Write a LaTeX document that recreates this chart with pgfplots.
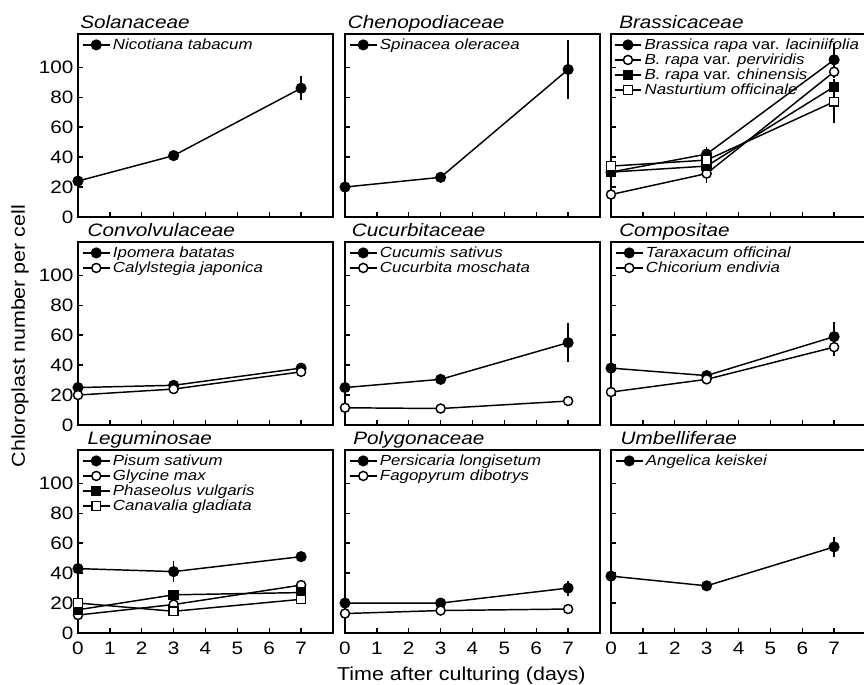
\documentclass[border=0pt]{standalone}
\usepackage{fontspec}
\setmainfont{Liberation Sans}[FakeStretch=1.15]
\usepackage{pgfplots}
\pgfplotsset{compat=1.18}
\pgfplotsset{
  panel/.style={
    scale only axis, width=191.25pt, height=137pt,
    anchor=south west,
    xmin=0, xmax=8, ymin=0, ymax=122,
    xtick={0,...,7}, ytick={0,20,...,100},
    xtick pos=left, ytick pos=left,
    tick align=inside, major tick length=3.75pt,
    axis line style={line width=1.4pt},
    tick style={line width=1pt, black},
    /pgf/number format/assume math mode=true,
    tick label style={font=\fontsize{13.5}{13.5}\selectfont},
    xticklabel style={yshift=-3pt},
    clip=false,
    title style={at={(0,1)}, anchor=base west, yshift=-1.5pt, inner sep=0pt,
      font=\fontsize{13.5}{14}\selectfont\itshape},
    legend style={at={(0,1)}, anchor=north west, draw=none, fill=none,
      xshift=2pt, yshift=0pt, inner sep=1pt, row sep=-2.2pt,
      font=\fontsize{11}{12}\selectfont\itshape},
    legend cell align=left,
    legend image code/.code={\draw[mark repeat=2,mark phase=2] plot coordinates {(0cm,0cm)(0.35cm,0cm)(0.7cm,0cm)};},
  },
  noylab/.style={yticklabels={}},
  noxlab/.style={xticklabels={}},
  eb/.style={/pgfplots/error bars/y dir=both, /pgfplots/error bars/y explicit,
    /pgfplots/error bars/error mark=none,
    /pgfplots/error bars/error bar style={line width=1.1pt, solid}},
  fc/.style={black, line width=1.1pt, mark=*, mark size=3.6pt, mark options={fill=black, draw=black, solid}, eb},
  oc/.style={black, line width=1.1pt, mark=*, mark size=3.4pt, mark options={fill=white, draw=black, solid}, eb},
  fs/.style={black, line width=1.1pt, mark=square*, mark size=3.3pt, mark options={fill=black, draw=black, solid}, eb},
  os/.style={black, line width=1.1pt, mark=square*, mark size=3.3pt, mark options={fill=white, draw=black, solid}, eb},
}
\begin{document}
\begin{tikzpicture}
\path[use as bounding box] (0,0) rectangle (648pt,513.75pt);

% Row 1
\begin{axis}[panel, noxlab, at={(58.5pt,351pt)}, title={\hspace*{1.5pt}Solanaceae}]
\addplot[fc] table[row sep=\\, y error=e] {x y e\\ 0 24 2\\ 3 41 3\\ 7 86 8\\};
\addlegendentry{Nicotiana tabacum}
\end{axis}

\begin{axis}[panel, noxlab, noylab, at={(258.75pt,351pt)}, title={\hspace*{2pt}Chenopodiaceae}]
\addplot[fc] table[row sep=\\, y error=e] {x y e\\ 0 20 1\\ 3 26.5 3\\ 7 98.5 20\\};
\addlegendentry{Spinacea oleracea}
\end{axis}

\begin{axis}[panel, noxlab, noylab, at={(458.25pt,351pt)}, title={\hspace*{6pt}Brassicaceae}, legend style={xshift=-1pt}]
\addplot[fc] table[row sep=\\, y error=e] {x y e\\ 0 30 2\\ 3 42 5\\ 7 105 11\\};
\addlegendentry{Brassica rapa {\upshape var.} laciniifolia}
\addplot[oc] table[row sep=\\, y error=e] {x y e\\ 0 15 2\\ 3 29 6\\ 7 97 4\\};
\addlegendentry{B. rapa {\upshape var.} perviridis}
\addplot[fs] table[row sep=\\, y error=e] {x y e\\ 0 30 2\\ 3 34 2\\ 7 87 5\\};
\addlegendentry{B. rapa {\upshape var.} chinensis}
\addplot[os] table[row sep=\\, y error=e] {x y e\\ 0 34 2\\ 3 38 2\\ 7 77 14\\};
\addlegendentry{Nasturtium officinale}
\end{axis}

% Row 2
\begin{axis}[panel, noxlab, at={(58.5pt,195pt)}, title={\hspace*{7pt}Convolvulaceae}]
\addplot[fc] table[row sep=\\, y error=e] {x y e\\ 0 25 2\\ 3 26.5 2\\ 7 38 2\\};
\addlegendentry{Ipomera batatas}
\addplot[oc] table[row sep=\\, y error=e] {x y e\\ 0 20 1\\ 3 24 2\\ 7 35.5 2\\};
\addlegendentry{Calylstegia japonica}
\end{axis}

\begin{axis}[panel, noxlab, noylab, at={(258.75pt,195pt)}, title={\hspace*{5pt}Cucurbitaceae}]
\addplot[fc] table[row sep=\\, y error=e] {x y e\\ 0 25 2\\ 3 30.5 2\\ 7 55 13\\};
\addlegendentry{Cucumis sativus}
\addplot[oc] table[row sep=\\, y error=e] {x y e\\ 0 11.5 1\\ 3 11 1\\ 7 16 1\\};
\addlegendentry{Cucurbita moschata}
\end{axis}

\begin{axis}[panel, noxlab, noylab, at={(458.25pt,195pt)}, title={\hspace*{6pt}Compositae}]
\addplot[fc] table[row sep=\\, y error=e] {x y e\\ 0 38 2\\ 3 33 2\\ 7 59 10\\};
\addlegendentry{Taraxacum officinal}
\addplot[oc] table[row sep=\\, y error=e] {x y e\\ 0 22 2\\ 3 30.5 2\\ 7 52 6\\};
\addlegendentry{Chicorium endivia}
\end{axis}

% Row 3
\begin{axis}[panel, at={(58.5pt,39pt)}, title={\hspace*{7pt}Leguminosae}]
\addplot[fc] table[row sep=\\, y error=e] {x y e\\ 0 43 3\\ 3 41 7\\ 7 51 3\\};
\addlegendentry{Pisum sativum}
\addplot[oc] table[row sep=\\, y error=e] {x y e\\ 0 12 2\\ 3 19 2\\ 7 32 2\\};
\addlegendentry{Glycine max}
\addplot[fs] table[row sep=\\, y error=e] {x y e\\ 0 15.5 2\\ 3 25.5 2\\ 7 27 2\\};
\addlegendentry{Phaseolus vulgaris}
\addplot[os] table[row sep=\\, y error=e] {x y e\\ 0 20 2\\ 3 14.5 2\\ 7 22.5 2\\};
\addlegendentry{Canavalia gladiata}
\end{axis}

\begin{axis}[panel, noylab, at={(258.75pt,39pt)}, title={\hspace*{6pt}Polygonaceae}]
\addplot[fc] table[row sep=\\, y error=e] {x y e\\ 0 20 2\\ 3 20 2\\ 7 30 5\\};
\addlegendentry{Persicaria longisetum}
\addplot[oc] table[row sep=\\, y error=e] {x y e\\ 0 13 1\\ 3 15 1\\ 7 16 1\\};
\addlegendentry{Fagopyrum dibotrys}
\end{axis}

\begin{axis}[panel, noylab, at={(458.25pt,39pt)}, title={\hspace*{7pt}Umbelliferae}]
\addplot[fc] table[row sep=\\, y error=e] {x y e\\ 0 38 2\\ 3 31.5 2\\ 7 57.5 6.5\\};
\addlegendentry{Angelica keiskei}
\end{axis}

\node[rotate=90, font=\fontsize{14}{14}\selectfont] at (15pt,261.75pt) {Chloroplast number per cell};
\node[anchor=base, font=\fontsize{14}{14}\selectfont] at (346pt,3pt) {Time after culturing (days)};
\end{tikzpicture}
\end{document}
